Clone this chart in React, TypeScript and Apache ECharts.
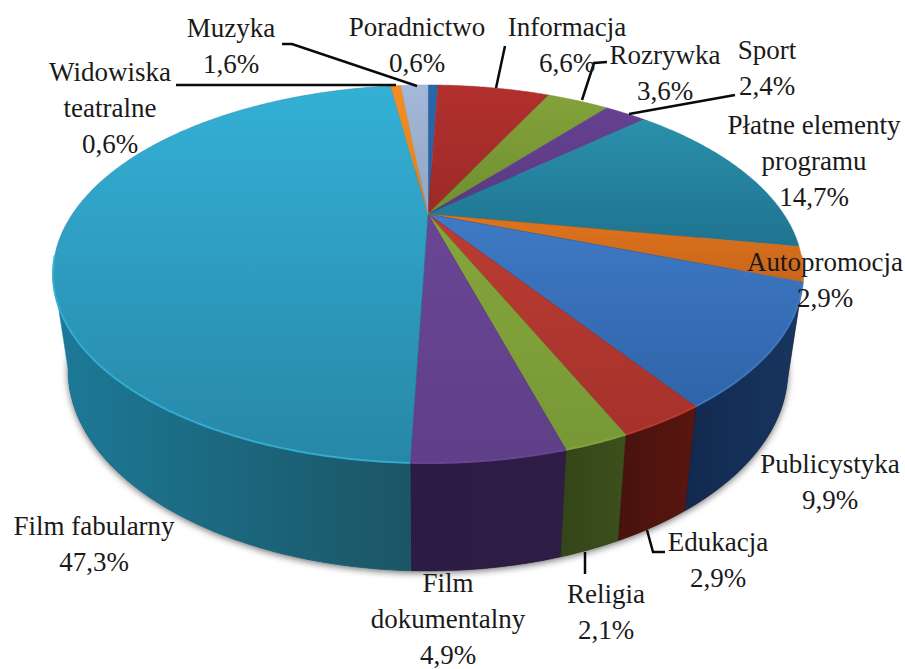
import React, { useEffect, useRef } from "react";
import * as echarts from "echarts";

const names = ["Poradnictwo", "Informacja", "Rozrywka", "Sport", "Płatne elementy\nprogramu", "Autopromocja", "Publicystyka", "Edukacja", "Religia", "Film\ndokumentalny", "Film fabularny", "Widowiska\nteatralne", "Muzyka"];
const values = [0.6, 6.6, 3.6, 2.4, 14.7, 2.9, 9.9, 2.9, 2.1, 4.9, 47.3, 0.6, 1.6];
const valueLabels = ["0,6%", "6,6%", "3,6%", "2,4%", "14,7%", "2,9%", "9,9%", "2,9%", "2,1%", "4,9%", "47,3%", "0,6%", "1,6%"];

const topFrom = ["#2A66A8", "#B2302E", "#83A23A", "#654190", "#2B90AB", "#DE741E", "#3F7AC6", "#BC3C33", "#85A63C", "#6A4696", "#34B0D5", "#F28E22", "#A4B8DA"];
const topTo = ["#2A60A0", "#9C2A28", "#6F8F30", "#5A3A82", "#1E7390", "#C9661A", "#2F64A8", "#A5322B", "#789836", "#5F3F88", "#2787A8", "#E08020", "#8FA6C4"];
const sideLeft = ["#12305A", "#5A1512", "#3A4D1A", "#2F1D45", "#155060", "#8A4510", "#12294E", "#47120D", "#344618", "#2C1B42", "#1C7A98", "#8A4510", "#5A6A85"];
const sideRight = ["#12305A", "#5A1512", "#3A4D1A", "#2F1D45", "#155060", "#8A4510", "#183660", "#5A1610", "#3C4F1C", "#2F1D46", "#1B5565", "#8A4510", "#5A6A85"];

// text anchor per slice: centre x, centre y of the first line
const labelCx = [417, 567, 665, 767, 814, 825, 830, 718, 606, 448, 94, 110, 231];
const labelCy = [27, 27, 55, 50, 125, 262, 464, 542, 594, 583, 526, 72, 28];
const LINE = 36;

const leaders: number[][][] = [
  [[282, 44], [292, 44], [417, 86]],
  [[176, 85], [396, 85]],
  [[505, 46], [496, 88]],
  [[607, 62], [594, 63], [582, 100]],
  [[735, 95], [629, 114]],
  [[647, 530], [653, 552], [665, 552]],
  [[585, 552], [585, 574]],
];

// pie geometry: a circular disc seen in perspective
const CX = 428, TOP_CY = 274, TOP_RX = 375, TOP_RY = 189;
const BOT_CY = 370, BOT_RX = 360, BOT_RY = 201;
const A = 0.317;
const S = Math.sqrt(1 - A * A);
const total = values.reduce((a, b) => a + b, 0);

const project = (theta: number) => {
  const X = Math.sin(theta), Y = -Math.cos(theta);
  const D = 1 - A * Y;
  return [(X * S) / D, (Y - A) / D];
};
const topPt = (n: number[]) => [CX + TOP_RX * n[0], TOP_CY + TOP_RY * n[1]];
const botPt = (n: number[]) => [CX + BOT_RX * n[0], BOT_CY + BOT_RY * n[1]];

const arc = (from: number, to: number) => {
  const start = (from / total) * Math.PI * 2;
  const end = (to / total) * Math.PI * 2;
  const n = Math.max(2, Math.ceil((end - start) / 0.01));
  const out: number[][] = [];
  for (let i = 0; i <= n; i++) out.push(project(start + ((end - start) * i) / n));
  return out;
};
const cumulative = (i: number) => values.slice(0, i).reduce((a, b) => a + b, 0);

const grad = (horizontal: boolean, c0: string, c1: string) => ({
  type: "linear", x: 0, y: 0, x2: horizontal ? 1 : 0, y2: horizontal ? 0 : 1,
  colorStops: [{ offset: 0, color: c0 }, { offset: 1, color: c1 }],
});

const renderSide = (params: any, api: any) => {
  const i = params.dataIndex;
  const c = cumulative(i);
  const pts = arc(c, c + api.value(0)).filter((n) => n[1] > -0.015);
  if (pts.length < 2) return { type: "group", children: [] };
  const poly = [...pts.map(topPt), ...pts.slice().reverse().map(botPt)];
  return {
    type: "polygon",
    shape: { points: poly },
    style: { fill: grad(true, sideLeft[i], sideRight[i]), stroke: sideLeft[i], lineWidth: 0.4 },
  };
};

const renderTop = (params: any, api: any) => {
  const i = params.dataIndex;
  const c = cumulative(i);
  const pts = arc(c, c + api.value(0));
  const outer = pts.map(topPt);
  const poly = [[CX, TOP_CY - TOP_RY * A], ...outer];
  const front = outer.filter((p, k) => pts[k][1] > -0.1);
  const children: any[] = [
    { type: "polygon", shape: { points: poly }, style: { fill: grad(false, topFrom[i], topTo[i]), stroke: topTo[i], lineWidth: 0.5 } },
  ];
  if (front.length > 1) {
    children.push({ type: "polyline", shape: { points: front }, style: { stroke: topFrom[i], lineWidth: 2, fill: "none", opacity: 0.9 } });
  }
  return { type: "group", children };
};

const FONT = "'Liberation Serif', 'Times New Roman', serif";

const labelLines = names.flatMap((n, i) =>
  [...n.split("\n"), valueLabels[i]].map((text, k) => ({ text, x: labelCx[i], y: labelCy[i] + k * LINE }))
);

export default function App() {
  const ref = useRef<HTMLDivElement>(null);
  useEffect(() => {
    document.body.style.margin = "0";
    document.body.style.background = "#fff";
    const chart = echarts.init(ref.current!, null, { renderer: "svg" });
    const seriesData = values.map((v, i) => ({ name: names[i], value: v }));
    chart.setOption({
      animation: false,
      backgroundColor: "#fff",
      series: [
        { type: "custom", coordinateSystem: "none", silent: true, z: 2, data: seriesData, renderItem: renderSide },
        { type: "custom", coordinateSystem: "none", silent: true, z: 3, data: seriesData, renderItem: renderTop },
      ],
      graphic: [
        {
          type: "ellipse", z: 0,
          shape: { cx: CX, cy: BOT_CY, rx: BOT_RX, ry: BOT_RY },
          style: { fill: "#333", shadowBlur: 7, shadowColor: "rgba(0,0,0,0.55)", shadowOffsetY: 2 },
        },
        ...leaders.map((pts) => ({
          type: "polyline", z: 10,
          shape: { points: pts },
          style: { stroke: "#0a0a0a", lineWidth: 2.5, fill: "none" },
        })),
        ...labelLines.map((l) => ({
          type: "text", z: 11,
          x: l.x, y: l.y,
          style: {
            text: l.text,
            font: "27px " + FONT,
            fill: "#1a1a1a",
            align: "center",
            verticalAlign: "middle",
          },
        })),
      ],
    });
    return () => chart.dispose();
  }, []);
  return <div ref={ref} style={{ width: 905, height: 669 }} />;
}
